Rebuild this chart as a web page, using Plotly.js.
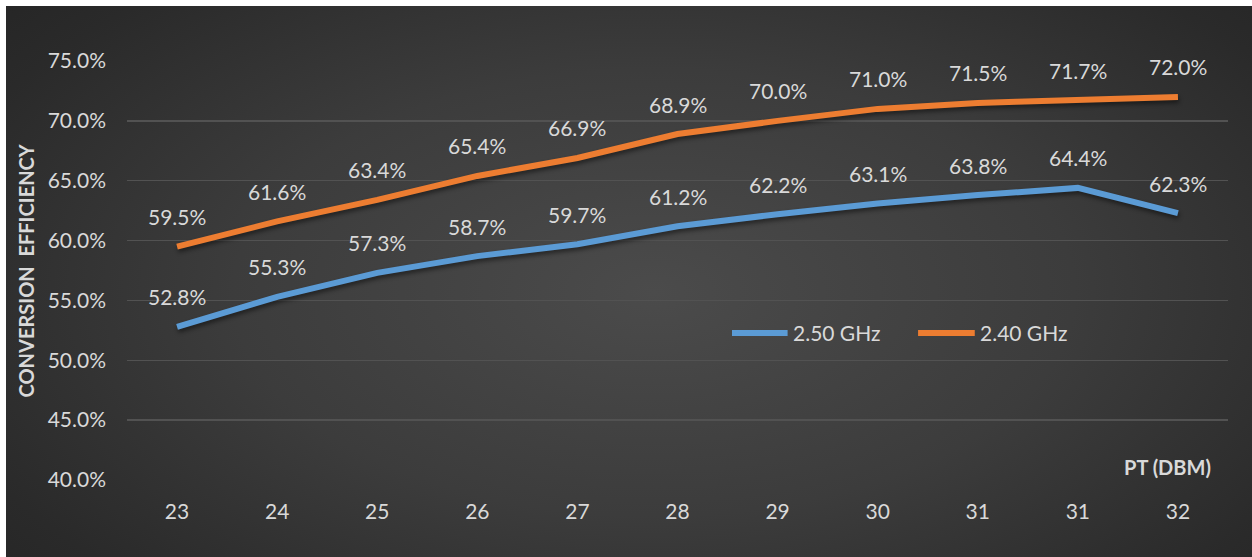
<!DOCTYPE html>
<html>
<head>
<meta charset="utf-8">
<script src="https://cdn.plot.ly/plotly-3.0.1.min.js"></script>
<style>
  html, body { margin: 0; padding: 0; background: #ffffff; }
  #frame {
    position: absolute; left: 6px; top: 6px; width: 1246px; height: 551px;
    background: radial-gradient(ellipse 75% 90% at 52% 52%, #4b4b4b 0%, #3c3c3c 45%, #2a2a2a 80%, #232323 100%);
  }
  #chart { width: 1246px; height: 551px; }
  .scatterlayer .trace path.js-line { filter: drop-shadow(1px 3px 2px rgba(0,0,0,0.45)); }
</style>
</head>
<body>
<div id="frame"><div id="chart"></div></div>
<script>
// Category labels along the PT axis (the 31 dBm step appears twice)
const ptLabels = ["23", "24", "25", "26", "27", "28", "29", "30", "31", "31", "32"];
// Conversion efficiency, percent
const eff250 = [52.8, 55.3, 57.3, 58.7, 59.7, 61.2, 62.2, 63.1, 63.8, 64.4, 62.3];
const eff240 = [59.5, 61.6, 63.4, 65.4, 66.9, 68.9, 70.0, 71.0, 71.5, 71.7, 72.0];
const seriesNames = ["2.50 GHz", "2.40 GHz"];
const seriesColors = ["#5b9bd5", "#ed7d31"];
const yTicks = [40, 45, 50, 55, 60, 65, 70, 75];

const idx = ptLabels.map((_, i) => i);
const FONT = "Lato, 'Open Sans', sans-serif";
const TXT = "#d9d9d9";

function lineTrace(vals, name, color) {
  return {
    x: idx, y: vals, name: name, type: "scatter", mode: "lines",
    line: { color: color, width: 6, shape: "linear" },
    showlegend: false, hoverinfo: "skip"
  };
}

const traces = [
  lineTrace(eff250, seriesNames[0], seriesColors[0]),
  lineTrace(eff240, seriesNames[1], seriesColors[1])
];

// Value labels sit above each point
const annotations = [];
[eff250, eff240].forEach(vals => {
  vals.forEach((v, i) => {
    annotations.push({
      x: i, y: v, xref: "x", yref: "y", text: v.toFixed(1) + "%",
      showarrow: false, yshift: 30, font: { family: FONT, size: 21, color: TXT }
    });
  });
});

// Axis titles
annotations.push({
  xref: "paper", yref: "paper", x: 0, y: 0.5, xanchor: "center", yanchor: "middle",
  xshift: -102, textangle: -90,
  text: "<b>CONVERSION  EFFICIENCY</b>", showarrow: false,
  font: { family: FONT, size: 20, color: TXT }
});
annotations.push({
  xref: "paper", yref: "paper", x: 1, y: 0, xanchor: "right", yanchor: "middle",
  xshift: -15, yshift: 13, text: "<b>PT (DBM)</b>", showarrow: false,
  font: { family: FONT, size: 20, color: TXT }
});

// Legend drawn as line swatches with labels
const legendItems = [
  { x0: 0.5495, x1: 0.600, tx: 0.603 },
  { x0: 0.7185, x1: 0.770, tx: 0.773 }
];
const shapes = [];
legendItems.forEach((it, k) => {
  shapes.push({
    type: "line", xref: "paper", yref: "paper", x0: it.x0, x1: it.x1, y0: 0.351, y1: 0.351,
    line: { color: seriesColors[k], width: 6 }
  });
  annotations.push({
    xref: "paper", yref: "paper", x: it.tx, y: 0.351, xanchor: "left", yanchor: "middle",
    text: seriesNames[k], showarrow: false, font: { family: FONT, size: 21, color: TXT }
  });
});

const layout = {
  width: 1246, height: 551,
  margin: { l: 121, r: 24, t: 55, b: 77 },
  paper_bgcolor: "rgba(0,0,0,0)", plot_bgcolor: "rgba(0,0,0,0)",
  font: { family: FONT, color: TXT },
  xaxis: {
    range: [-0.5, 10.5], tickvals: idx, ticktext: ptLabels,
    showgrid: false, zeroline: false, showline: false, ticks: "",
    ticklabelstandoff: 17, tickfont: { family: FONT, size: 21, color: TXT }
  },
  yaxis: {
    range: [40, 75], tickvals: yTicks, ticktext: yTicks.map(v => v.toFixed(1) + "%"),
    showgrid: true, gridcolor: "#525252", gridwidth: 1.5, zeroline: false, showline: false,
    ticks: "", ticklabelstandoff: 20, tickfont: { family: FONT, size: 21, color: TXT }
  },
  shapes: shapes,
  annotations: annotations,
  showlegend: false
};

Plotly.newPlot("chart", traces, layout, { displayModeBar: false, staticPlot: true });
</script>
</body>
</html>
